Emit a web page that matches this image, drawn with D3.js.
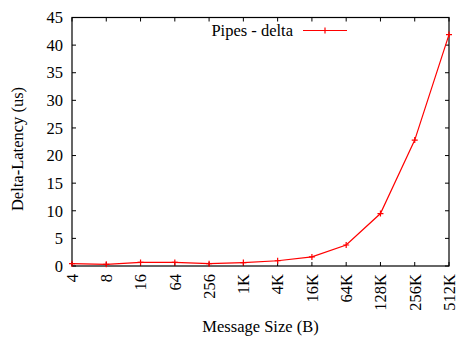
<!DOCTYPE html>
<html>
<head>
<meta charset="utf-8">
<script src="https://cdn.jsdelivr.net/npm/d3@7"></script>
<style>
  body { margin: 0; background: #fff; }
  text { font-family: "Liberation Serif", "DejaVu Serif", serif; font-size: 16.5px; fill: #000; }
</style>
</head>
<body>
<svg id="chart" width="456" height="341"></svg>
<script>
// message sizes and delta latency (us)
var sizes = ['4', '8', '16', '64', '256', '1K', '4K', '16K', '64K', '128K', '256K', '512K'];
var delta = [0.42, 0.3, 0.65, 0.65, 0.42, 0.62, 0.95, 1.65, 3.8, 9.5, 22.8, 41.9];
var yTicks = [0, 5, 10, 15, 20, 25, 30, 35, 40, 45];

var svg = d3.select('#chart');
var plotLeft = 72, plotRight = 449, plotTop = 17.5, plotBottom = 266;

var x = d3.scalePoint().domain(sizes).range([plotLeft, plotRight]).padding(0);
var y = d3.scaleLinear().domain([0, 45]).range([plotBottom, plotTop]);

// ticks, gnuplot style: inward and mirrored
var ticks = svg.append('g').attr('stroke', '#000').attr('stroke-width', 1);
yTicks.forEach(function(t) {
    ticks.append('line').attr('x1', plotLeft).attr('x2', plotLeft + 4).attr('y1', y(t)).attr('y2', y(t));
    ticks.append('line').attr('x1', plotRight).attr('x2', plotRight - 4).attr('y1', y(t)).attr('y2', y(t));
});
sizes.forEach(function(s) {
    ticks.append('line').attr('x1', x(s)).attr('x2', x(s)).attr('y1', plotBottom).attr('y2', plotBottom - 4);
    ticks.append('line').attr('x1', x(s)).attr('x2', x(s)).attr('y1', plotTop).attr('y2', plotTop + 4);
});

svg.append('rect')
    .attr('x', plotLeft).attr('y', plotTop)
    .attr('width', plotRight - plotLeft).attr('height', plotBottom - plotTop)
    .attr('fill', 'none').attr('stroke', '#000').attr('stroke-width', 1.2);

// tick labels
svg.append('g').selectAll('text').data(yTicks).enter().append('text')
    .attr('x', plotLeft - 9)
    .attr('y', function(d) { return y(d); })
    .attr('dy', '0.35em')
    .attr('text-anchor', 'end')
    .text(function(d) { return d; });

svg.append('g').selectAll('text').data(sizes).enter().append('text')
    .attr('transform', function(d) { return 'translate(' + x(d) + ',' + (plotBottom + 8) + ') rotate(-90)'; })
    .attr('dy', '0.35em')
    .attr('text-anchor', 'end')
    .text(function(d) { return d; });

// axis titles
svg.append('text')
    .attr('transform', 'translate(23,149) rotate(-90)')
    .attr('text-anchor', 'middle')
    .text('Delta-Latency (us)');

svg.append('text')
    .attr('x', (plotLeft + plotRight) / 2).attr('y', 332)
    .attr('text-anchor', 'middle')
    .text('Message Size (B)');

// series
var line = d3.line()
    .x(function(d, i) { return x(sizes[i]); })
    .y(function(d) { return y(d); });

svg.append('path').datum(delta)
    .attr('d', line)
    .attr('fill', 'none').attr('stroke', '#ff0000').attr('stroke-width', 1.2);

function plus(g, cx, cy) {
    g.append('path')
        .attr('d', 'M' + (cx - 3) + ',' + cy + 'H' + (cx + 3) + 'M' + cx + ',' + (cy - 3) + 'V' + (cy + 3))
        .attr('stroke', '#ff0000').attr('stroke-width', 1.2);
}

var pts = svg.append('g');
delta.forEach(function(d, i) { plus(pts, x(sizes[i]), y(d)); });

// legend
svg.append('text')
    .attr('x', 293).attr('y', 30.5).attr('dy', '0.35em')
    .attr('text-anchor', 'end')
    .text('Pipes - delta');
svg.append('line')
    .attr('x1', 303).attr('x2', 347).attr('y1', 30.5).attr('y2', 30.5)
    .attr('stroke', '#ff0000').attr('stroke-width', 1.2);
plus(svg, 325, 30.5);
</script>
</body>
</html>
